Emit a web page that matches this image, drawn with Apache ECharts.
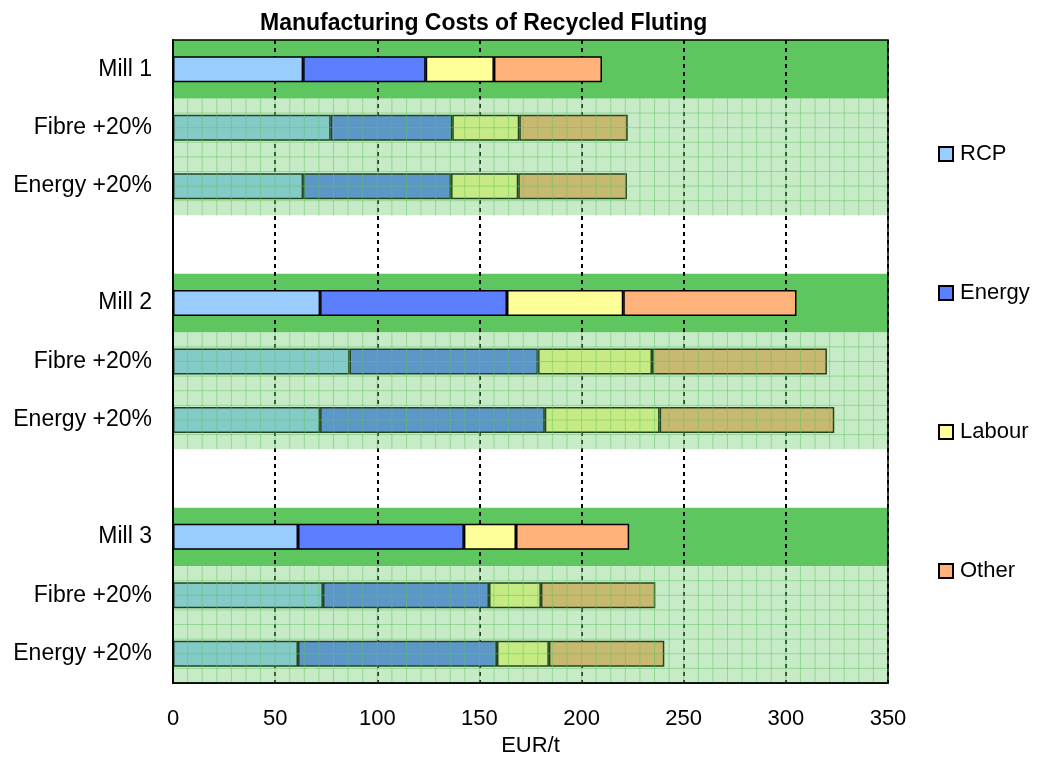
<!DOCTYPE html>
<html>
<head>
<meta charset="utf-8">
<script src="https://cdn.jsdelivr.net/npm/echarts@6/dist/echarts.min.js"></script>
<style>
html,body{margin:0;padding:0;background:#fff;}
#main{width:1044px;height:758px;}
</style>
</head>
<body>
<div id="main"></div>
<script>
var categories = ['Mill 1','Fibre +20%','Energy +20%','','Mill 2','Fibre +20%','Energy +20%','','Mill 3','Fibre +20%','Energy +20%'];
var rcpData = [63.7, 77.2, 63.7, '-', 72, 86.4, 72, '-', 61.2, 73.4, 61.2];
var energyData = [60, 59.5, 72.4, '-', 91.5, 92.3, 110, '-', 81.2, 81.3, 97.4];
var labourData = [33.4, 32.8, 32.9, '-', 56.9, 55.8, 56.2, '-', 25.5, 25.4, 25.4];
var otherData = [52.9, 53.1, 53.2, '-', 84.8, 85.6, 85.5, '-', 55.4, 56, 56.5];
var millRows = [0, 4, 8];
var sensitivityRows = [[1, 2], [5, 6], [9, 10]];
var xMax = 350;

var font = "'Liberation Sans', Arial, sans-serif";

//dark green band behind the mill rows
function renderMillBand(params, api) {
	var row = api.value(1);
	var h = api.size([0, 1])[1];
	var p0 = api.coord([0, row]);
	var p1 = api.coord([xMax, row]);
	return {
		type: 'rect',
		shape: {x: p0[0], y: p0[1] - h / 2, width: p1[0] - p0[0], height: h},
		style: {fill: '#5EC65E'}
	};
}

//light green gridded overlay over the sensitivity rows
function renderOverlay(params, api) {
	var h = api.size([0, 1])[1];
	var top = api.coord([0, api.value(1)])[1] - h / 2;
	var bottom = api.coord([0, api.value(2)])[1] + h / 2;
	var left = api.coord([0, 0])[0];
	var right = api.coord([xMax, 0])[0];
	var children = [{
		type: 'rect',
		shape: {x: left, y: top, width: right - left, height: bottom - top},
		style: {fill: 'rgba(94,198,94,0.35)'}
	}];
	var lineStyle = {stroke: 'rgba(94,198,94,0.5)', lineWidth: 1};
	for (var k = 1; k < 49; k++) {
		var x = api.coord([k * 50 / 7, 0])[0];
		children.push({type: 'line', shape: {x1: x, y1: top, x2: x, y2: bottom}, style: lineStyle});
	}
	for (var y = top + h / 4; y < bottom - 1; y += h / 4) {
		children.push({type: 'line', shape: {x1: left, y1: y, x2: right, y2: y}, style: lineStyle});
	}
	return {type: 'group', children: children};
}

function barSeries(name, color, data) {
	return {
		name: name,
		type: 'bar',
		stack: 'cost',
		barWidth: 26,
		z: 3,
		itemStyle: {color: color, borderColor: '#000', borderWidth: 1.5},
		data: data
	};
}

var myChart = echarts.init(document.getElementById('main'));
var option = {
	animation: false,
	title: {
		text: 'Manufacturing Costs of Recycled Fluting',
		left: 255,
		top: 7,
		textStyle: {fontFamily: font, fontSize: 23, fontWeight: 'bold', color: '#000'}
	},
	legend: {
		orient: 'vertical',
		left: 933,
		top: 138,
		itemWidth: 14,
		itemHeight: 14,
		itemGap: 117,
		icon: 'rect',
		textStyle: {fontFamily: font, fontSize: 22, color: '#000', lineHeight: 22, padding: [0, 0, 0, 2]},
		data: ['RCP', 'Energy', 'Labour', 'Other']
	},
	grid: {
		left: 173,
		right: 156,
		top: 40,
		bottom: 75,
		outerBoundsMode: 'none',
		show: true,
		z: 6,
		borderColor: '#000',
		borderWidth: 1.5,
		backgroundColor: 'transparent'
	},
	xAxis: {
		type: 'value',
		min: 0,
		max: xMax,
		interval: 50,
		z: 2,
		name: 'EUR/t',
		nameLocation: 'middle',
		nameGap: 50,
		nameTextStyle: {fontFamily: font, fontSize: 22, color: '#000'},
		axisLine: {show: true, lineStyle: {color: '#000', width: 1.5}},
		axisTick: {show: false},
		axisLabel: {fontFamily: font, fontSize: 22, color: '#000', margin: 25},
		splitLine: {show: true, lineStyle: {color: '#000', width: 2, type: [4, 4]}}
	},
	yAxis: {
		type: 'category',
		inverse: true,
		z: 6,
		data: categories,
		axisLine: {show: true, lineStyle: {color: '#000', width: 2}},
		axisTick: {show: false},
		axisLabel: {fontFamily: font, fontSize: 23, color: '#000', margin: 21},
		splitLine: {show: false}
	},
	series: [
		{
			type: 'custom',
			z: 1,
			silent: true,
			renderItem: renderMillBand,
			encode: {x: 0, y: 1},
			data: millRows.map(function (r) { return [0, r]; })
		},
		barSeries('RCP', '#99CCFF', rcpData),
		barSeries('Energy', '#5B7FFF', energyData),
		barSeries('Labour', '#FFFF99', labourData),
		barSeries('Other', '#FFB27A', otherData),
		{
			type: 'custom',
			z: 4,
			silent: true,
			renderItem: renderOverlay,
			encode: {x: 0, y: 1},
			data: sensitivityRows.map(function (r) { return [0, r[0], r[1]]; })
		}
	]
};
myChart.setOption(option, true);
</script>
</body>
</html>
